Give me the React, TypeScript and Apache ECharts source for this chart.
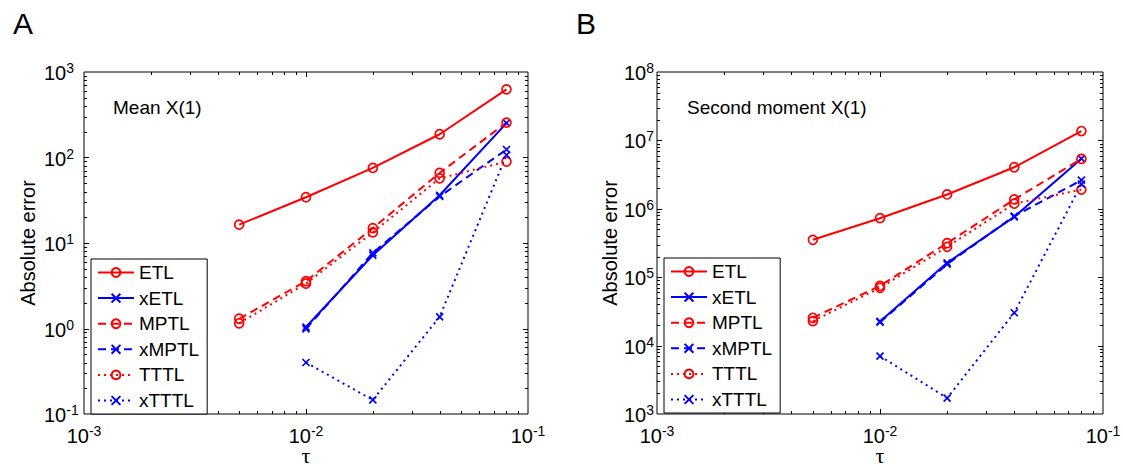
import React, { useEffect, useRef } from "react";
import * as echarts from "echarts";

// ---- data ----
const tau = [0.005, 0.01, 0.02, 0.04, 0.08];
const tauX = [0.01, 0.02, 0.04, 0.08];
const seriesNames = ["ETL", "xETL", "MPTL", "xMPTL", "TTTL", "xTTTL"];

// Panel A: Mean X(1)
const etlA = [16.4, 34.3, 75.5, 187, 627];
const xetlA = [1.04, 7.2, 36.2, 252];
const mptlA = [1.3, 3.58, 14.9, 66, 256];
const xmptlA = [0.99, 7.67, 35, 124];
const tttlA = [1.15, 3.36, 13.3, 57, 89.6];
const xtttlA = [0.4, 0.146, 1.37, 107];

// Panel B: Second moment X(1)
const etlB = [3.52e5, 7.29e5, 1.62e6, 4.05e6, 1.37e7];
const xetlB = [2.26e4, 1.62e5, 7.62e5, 5.4e6];
const mptlB = [2.55e4, 7.48e4, 3.15e5, 1.37e6, 5.36e6];
const xmptlB = [2.2e4, 1.55e5, 7.8e5, 2.62e6];
const tttlB = [2.28e4, 7.0e4, 2.78e5, 1.19e6, 1.91e6];
const xtttlB = [7.03e3, 1.71e3, 3.02e4, 2.29e6];

const panelTitles = ["Mean X(1)", "Second moment X(1)"];
const panelLetters = ["A", "B"];
const xName = "τ";
const yName = "Absolute error";

const FONT = "'Liberation Sans', Arial, Helvetica, sans-serif";
const RED = "#ff0000";
const BLUE = "#0000ff";
const XMARK = "path://M0,0L10,10M10,0L0,10";

function logTicks(minExp: number, maxExp: number) {
  const out: { v: number; major: boolean }[] = [];
  for (let e = minExp; e < maxExp; e++) {
    for (let m = 1; m <= 9; m++) {
      if (e === minExp && m === 1) continue;
      out.push({ v: m * Math.pow(10, e), major: m === 1 });
    }
  }
  return out;
}

function zip(xs: number[], ys: number[]) {
  return xs.map((x, i) => [x, ys[i]]);
}

function lineSeries(
  name: string,
  xs: number[],
  ys: number[],
  grid: number,
  color: string,
  dash: "solid" | "dashed" | "dotted",
  marker: "o" | "x"
) {
  const type = dash === "solid" ? "solid" : dash === "dashed" ? [8, 5] : [2, 4];
  return {
    type: "line",
    name,
    xAxisIndex: grid,
    yAxisIndex: grid,
    data: zip(xs, ys),
    symbol: marker === "o" ? "circle" : XMARK,
    symbolSize: marker === "o" ? 9 : 7,
    showSymbol: true,
    lineStyle: { color, width: 2, type },
    itemStyle: { color: "rgba(0,0,0,0)", borderColor: color, borderWidth: 1.7 },
    emphasis: { disabled: true },
    z: 3,
  };
}

function tickSeries(grid: number, xMin: number, yMin: number, yMinExp: number, yMaxExp: number) {
  const data: number[][] = [];
  logTicks(-3, -1).forEach((t) => data.push([t.v, yMin, 0, t.major ? 1 : 0]));
  logTicks(yMinExp, yMaxExp).forEach((t) => data.push([xMin, t.v, 1, t.major ? 1 : 0]));
  return {
    type: "custom",
    xAxisIndex: grid,
    yAxisIndex: grid,
    silent: true,
    z: 1,
    data,
    renderItem: (params: any, api: any) => {
      const cs = params.coordSys;
      const p = api.coord([api.value(0), api.value(1)]);
      const kind = api.value(2);
      const len = api.value(3) ? 5 : 3;
      const style = { stroke: "#000", lineWidth: 1 };
      if (kind === 0) {
        const x = Math.round(p[0]) + 0.5;
        const yb = cs.y + cs.height;
        const yt = cs.y;
        return {
          type: "group",
          children: [
            { type: "line", shape: { x1: x, y1: yb, x2: x, y2: yb - len }, style },
            { type: "line", shape: { x1: x, y1: yt, x2: x, y2: yt + len }, style },
          ],
        };
      }
      const y = Math.round(p[1]) + 0.5;
      const xl = cs.x;
      const xr = cs.x + cs.width;
      return {
        type: "group",
        children: [
          { type: "line", shape: { x1: xl, y1: y, x2: xl + len, y2: y }, style },
          { type: "line", shape: { x1: xr, y1: y, x2: xr - len, y2: y }, style },
        ],
      };
    },
  };
}

const labelRich = {
  b: { fontSize: 20, fontFamily: FONT, color: "#000", padding: [8, 0, 0, 0], verticalAlign: "bottom", lineHeight: 22 },
  s: { fontSize: 14, fontFamily: FONT, color: "#000", verticalAlign: "top", lineHeight: 15 },
};
const expFormatter = (v: number) => `{b|10}{s|${Math.round(Math.log10(v))}}`;

function xAxis(grid: number) {
  return {
    type: "log",
    logBase: 10,
    gridIndex: grid,
    min: 0.001,
    max: 0.1,
    axisLine: { show: false },
    axisTick: { show: false },
    splitLine: { show: false },
    axisLabel: { formatter: expFormatter, rich: labelRich, margin: 10, fontSize: 20 },
    name: xName,
    nameLocation: "middle",
    nameGap: 33,
    nameMoveOverlap: false,
    nameTextStyle: { fontSize: 22, lineHeight: 16, fontFamily: "'Liberation Serif', 'DejaVu Serif', serif", color: "#000" },
  };
}

function yAxis(grid: number, min: number, max: number, labelMargin: number, nameGap: number) {
  return {
    type: "log",
    logBase: 10,
    gridIndex: grid,
    min,
    max,
    axisLine: { show: false },
    axisTick: { show: false },
    splitLine: { show: false },
    axisLabel: { formatter: expFormatter, rich: labelRich, margin: labelMargin, align: "left", fontSize: 20 },
    name: yName,
    nameLocation: "middle",
    nameGap,
    nameMoveOverlap: false,
    nameTextStyle: { fontSize: 20, fontFamily: FONT, color: "#000" },
  };
}

function legend(left: number, top: number) {
  return {
    data: seriesNames,
    orient: "vertical",
    left,
    top,
    itemWidth: 36,
    itemHeight: 11,
    itemGap: 6.6,
    padding: [4, 8, 4, 6],
    borderColor: "#000",
    borderWidth: 1,
    backgroundColor: "#fff",
    selectedMode: false,
    textStyle: { fontSize: 19, fontFamily: FONT, color: "#000", lineHeight: 18 },
  };
}

export default function App() {
  const ref = useRef<HTMLDivElement>(null);
  useEffect(() => {
    if (!ref.current) return;
    const chart = echarts.init(ref.current, undefined, { renderer: "svg" });
    const series: any[] = [
      tickSeries(0, 0.001, 0.1, -1, 3),
      tickSeries(1, 0.001, 1000, 3, 8),
      lineSeries("ETL", tau, etlA, 0, RED, "solid", "o"),
      lineSeries("xETL", tauX, xetlA, 0, BLUE, "solid", "x"),
      lineSeries("MPTL", tau, mptlA, 0, RED, "dashed", "o"),
      lineSeries("xMPTL", tauX, xmptlA, 0, BLUE, "dashed", "x"),
      lineSeries("TTTL", tau, tttlA, 0, RED, "dotted", "o"),
      lineSeries("xTTTL", tauX, xtttlA, 0, BLUE, "dotted", "x"),
      lineSeries("ETL", tau, etlB, 1, RED, "solid", "o"),
      lineSeries("xETL", tauX, xetlB, 1, BLUE, "solid", "x"),
      lineSeries("MPTL", tau, mptlB, 1, RED, "dashed", "o"),
      lineSeries("xMPTL", tauX, xmptlB, 1, BLUE, "dashed", "x"),
      lineSeries("TTTL", tau, tttlB, 1, RED, "dotted", "o"),
      lineSeries("xTTTL", tauX, xtttlB, 1, BLUE, "dotted", "x"),
    ];
    chart.setOption({
      animation: false,
      backgroundColor: "#fff",
      textStyle: { fontFamily: FONT },
      title: [
        { text: panelLetters[0], left: 8, top: 3, textStyle: { fontSize: 30, fontWeight: "normal", fontFamily: FONT, color: "#000" } },
        { text: panelLetters[1], left: 571, top: 3, textStyle: { fontSize: 30, fontWeight: "normal", fontFamily: FONT, color: "#000" } },
        { text: panelTitles[0], left: 108, top: 93, textStyle: { fontSize: 19, fontWeight: "normal", fontFamily: FONT, color: "#000" } },
        { text: panelTitles[1], left: 682, top: 93, textStyle: { fontSize: 19, fontWeight: "normal", fontFamily: FONT, color: "#000" } },
      ],
      legend: [legend(91, 259), legend(664, 258)],
      grid: [
        { left: 84, top: 72, width: 444, height: 342, show: true, borderColor: "#000", borderWidth: 1, backgroundColor: "transparent", containLabel: false, outerBoundsMode: "none" },
        { left: 657, top: 72, width: 446, height: 342, show: true, borderColor: "#000", borderWidth: 1, backgroundColor: "transparent", containLabel: false, outerBoundsMode: "none" },
      ],
      xAxis: [xAxis(0), xAxis(1)],
      yAxis: [yAxis(0, 0.1, 1000, 40, 46), yAxis(1, 1000, 1e8, 33, 37)],
      series,
    });
    return () => chart.dispose();
  }, []);
  return (
    <div
      ref={ref}
      style={{ position: "fixed", left: 0, top: 0, width: 1123, height: 464, background: "#fff" }}
    />
  );
}
